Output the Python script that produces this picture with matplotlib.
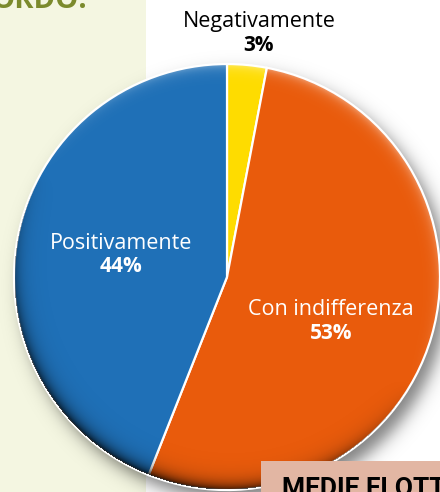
import numpy as np
import matplotlib
matplotlib.use("Agg")
import matplotlib.pyplot as plt
from matplotlib.patches import Rectangle

# ---- data ----
labels = ["Negativamente", "Con indifferenza", "Positivamente"]
values = [3, 53, 44]
pct_labels = ["3%", "53%", "44%"]
colors = ["#fedc00", "#e95b0c", "#1f70b7"]

W, H = 440, 492
fig = plt.figure(figsize=(W / 100, H / 100), dpi=100)
ax = fig.add_axes([0, 0, 1, 1])
ax.set_xlim(0, W)
ax.set_ylim(0, H)
ax.axis("off")
fig.patch.set_facecolor("white")

cx, cy, R = 227, H - 277, 213

# cream side panel
ax.add_patch(Rectangle((0, 0), 146, H, facecolor="#f4f6e1", edgecolor="none", zorder=0))
ax.text(-9, H - 8, "ORDO:", fontsize=21, fontweight="bold", color="#7b8a2c",
        family="Open Sans", ha="left", va="baseline", zorder=1)

# pixel grid for shading overlays
xs = np.arange(W) + 0.5
ys = np.arange(H) + 0.5
X, Y = np.meshgrid(xs, ys)

# drop shadow
ds = np.hypot(X - (cx + 8), Y - (cy - 10))
sh_alpha = 0.5 / (1 + np.exp((ds - R) / 5.0))
shadow = np.zeros((H, W, 4))
shadow[..., 3] = sh_alpha
ax.imshow(shadow, extent=(0, W, 0, H), origin="lower", zorder=2, interpolation="bilinear")

# pie
wedges, _ = ax.pie(values, colors=colors, startangle=90, counterclock=False,
                   center=(cx, cy), radius=R,
                   wedgeprops=dict(edgecolor="white", linewidth=1.6, zorder=3))
for w in wedges:
    w.set_zorder(3)
ax.set_xlim(0, W)
ax.set_ylim(0, H)
ax.set_aspect("equal")

# rim shading (light from upper right)
r = np.hypot(X - cx, Y - cy)
phi = np.arctan2(Y - cy, X - cx)
s = np.cos(phi - np.deg2rad(60))
inside = r < R - 0.5
edge_d = np.exp(-(R - r) / 7.0) * inside
edge_l = np.exp(-(R - r) / 5.0) * inside
rim = np.zeros((H, W, 4))
dark = np.clip(-s, 0, 1) * edge_d * 0.9
light = np.clip(s, 0, 1) * edge_l * 0.45
alpha = dark + light
rgb_val = np.where(dark > light, 0.0, 1.0)
rim[..., 0] = rgb_val
rim[..., 1] = rgb_val
rim[..., 2] = rgb_val
rim[..., 3] = np.clip(alpha, 0, 1)
ax.imshow(rim, extent=(0, W, 0, H), origin="lower", zorder=4, interpolation="bilinear")
ax.set_xlim(0, W)
ax.set_ylim(0, H)

# labels
fam = ["Open Sans", "DejaVu Sans"]
ax.text(259, H - 27, labels[0], fontsize=15.5, color="black", family=fam,
        ha="center", va="baseline", zorder=6)
ax.text(259, H - 51, pct_labels[0], fontsize=15, fontweight="bold", color="black",
        family=fam, ha="center", va="baseline", zorder=6)
ax.text(331, H - 315, labels[1], fontsize=15.5, color="white", family=fam,
        ha="center", va="baseline", zorder=6)
ax.text(331, H - 339, pct_labels[1], fontsize=15, fontweight="bold", color="white",
        family=fam, ha="center", va="baseline", zorder=6)
ax.text(121, H - 249, labels[2], fontsize=15.5, color="white", family=fam,
        ha="center", va="baseline", zorder=6)
ax.text(121, H - 272, pct_labels[2], fontsize=15, fontweight="bold", color="white",
        family=fam, ha="center", va="baseline", zorder=6)

# bottom box
ax.add_patch(Rectangle((261, 0), W - 261, H - 461, facecolor="#e2b6a3",
                       edgecolor="none", zorder=7))
ax.text(282, H - 496, "MEDIE FLOTTE", fontsize=19, fontweight="bold", color="black",
        family=["Roboto", "DejaVu Sans"], ha="left", va="baseline",
        zorder=8)

fig.savefig("out.png", dpi=100)
